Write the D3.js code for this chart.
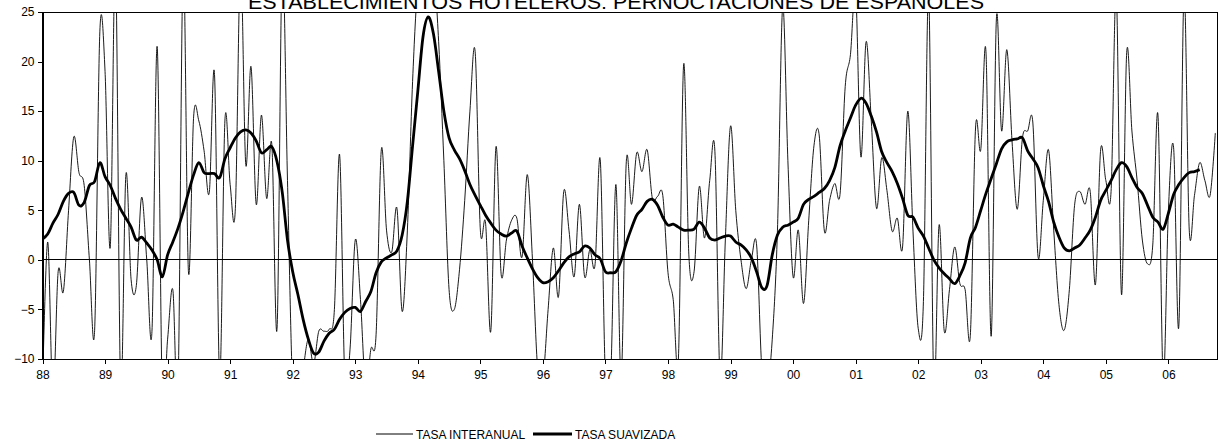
<!DOCTYPE html>
<meta charset="utf-8">
<style>
body { margin: 0; background: #fff; }
text { font-family: "Liberation Sans", Arial, sans-serif; fill: #000; }
.axis path, .axis line { stroke: #000; shape-rendering: crispEdges; }
.axis text { font-size: 12px; font-family: "Liberation Sans", Arial, sans-serif; }
</style>
<body>
<script src="https://cdnjs.cloudflare.com/ajax/libs/d3/7.8.5/d3.min.js"></script>
<script>

// year labels, one every 12 months starting Jan 1988
var yearLabels = ["88","89","90","91","92","93","94","95","96","97","98","99","00","01","02","03","04","05","06"];
var yTickValues = [-10, -5, 0, 5, 10, 15, 20, 25];

// monthly year-on-year rate (thin line), Jan 1988 onwards
var tasaInteranual = [
  -13, 1.8, -14, -1.2, -3.2, 5, 12.4, 8.8, 7.5, 0, -7.1, 23,
  19, 1.3, 30, -13, 8.6, -2, -2.6, 6.3, 0, -7.2, 21.5, -14,
  -8, -3, -13, 30, -1.2, 14.5, 14, 11, 6.8, 18.7, -12, 14.1,
  7.6, 5.2, 30, 9.6, 19.5, 5.6, 14.6, 6.2, 11.6, -6.9, 30, 8,
  -13, -14, -11, -8, -10.5, -7.2, -7.2, -7, -5, 10.6, -12, -9,
  2.0, -4, -13, -9, -7.5, 11.1, 3, 0.8, 5.2, -5.2, 3, 18,
  28, 32, 33, 30, 22, 10, -3, -5, -1, 6, 15, 21,
  3, 3.7, -7.2, 11.4, -1.5, 2, 4, 4.2, 0.3, 8.6, 0, -11,
  -12, -5, 1.2, -3.7, 6.9, 3, -1.7, 5.6, -1.7, 1, -0.5, 10.1,
  -12, -12, 7.6, -12, 9.9, 5.6, 10.8, 8.9, 11.1, 6.2, 6.4, 6.5,
  -1.3, -4, -9.9, 19.7, 0.5, -1.2, 7.4, 2.2, 8, 10.9, -12, 2,
  13.5, 5, 0, -2.9, 0, 1.5, -11, -13, -8, 3, 25.5, 10,
  -1.7, 3.0, -4.4, 4, 11.5, 12.6, 2.9, 6, 7.7, 6.6, 17.5, 20.7,
  27, 10.4, 22, 14, 5.2, 10.3, 7, 2.9, 4.2, 1.3, 15, 2.9,
  -6.9, -4.2, 27, -13, 3.5, -7.2, -3, 1.3, -2.4, -3, -7.6, 13.3,
  11.1, 21, -7.7, 24.3, 13, 21.2, 12, 5.1, 12.3, 13, 13.8, 0.3,
  6, 11.1, 3, -4.5, -7.1, -3, 5.5, 6.9, 5.6, 6.9, -2.5, 11.1,
  8, 6.9, 27, -3.5, 20.9, 13, 8, 2, -0.4, 1.5, 14.6, -12,
  5, 11.3, -6.7, 27, 3, 6.5, 9.8, 8, 6.5, 12.8
];

// smoothed rate (thick line)
var tasaSuavizada = [
  2.1, 2.6, 3.7, 4.6, 5.9, 6.7, 6.8, 5.5, 5.8, 7.5, 7.9, 9.8,
  8.4, 7.5, 6.2, 5.1, 4.2, 3.3, 2.0, 2.3, 1.7, 1.0, 0, -1.7,
  0.5, 1.8, 3.2, 4.9, 6.8, 8.6, 9.8, 8.8, 8.7, 8.7, 8.3, 10.2,
  11.3, 12.3, 12.9, 13.1, 12.8, 12.0, 10.8, 11.1, 11.4, 9.9, 6.8, 2.0,
  -1.2, -3.5, -6.0, -8.0, -9.4, -9.3, -8.2, -7.4, -7.0, -6.0, -5.3, -4.9,
  -4.8, -5.2, -4.2, -3.2, -1.3, -0.2, 0.2, 0.5, 0.9, 2.5, 5.9, 11.5,
  17, 22.5, 24.5, 22.8, 19, 15, 12.3, 11.1, 10.2, 9.0, 7.6, 6.5,
  5.5, 4.5, 3.7, 3.0, 2.6, 2.4, 2.7, 2.9, 1.4, 0.2, -0.9, -1.8,
  -2.3, -2.2, -1.8, -1.1, -0.3, 0.3, 0.6, 0.8, 1.4, 1.2, 0.5, 0.1,
  -1.2, -1.3, -1.2, -0.1, 1.7, 3.2, 4.5, 5.1, 5.9, 6.1, 5.5, 4.3,
  3.5, 3.6, 3.3, 3.0, 3.0, 3.1, 3.8, 3.2, 2.2, 2.0, 2.2, 2.4,
  2.4, 1.8, 1.5, 1.0, 0.2, -1.2, -2.8, -2.6, 0.5, 2.5, 3.3, 3.5,
  3.8, 4.2, 5.6, 6.1, 6.4, 6.8, 7.2, 8.0, 9.3, 11.5, 13.0, 14.3,
  15.6, 16.3, 15.8, 14.5, 12.9, 10.9, 9.8, 8.9, 7.7, 6.2, 4.5, 4.3,
  3.2, 2.4, 1.2, 0, -0.8, -1.4, -1.9, -2.4, -1.6, -0.3, 2.2, 3.3,
  5.0, 6.7, 8.2, 9.7, 11.2, 11.9, 12.1, 12.2, 12.3, 11.0, 10.2, 9.3,
  7.5, 5.9, 3.8, 2.3, 1.2, 0.9, 1.2, 1.5, 2.2, 3.0, 4.3, 6.0,
  7.0, 8.0, 9.1, 9.8, 9.4, 8.3, 7.3, 6.7, 5.5, 4.3, 3.8, 3.1,
  4.7, 6.6, 7.6, 8.3, 8.8, 8.9, 9.1
];

var W = 1219, H = 443;
var plotLeft = 42.5, plotRight = 1217, plotTop = 12, plotBottom = 359;

var svg = d3.select("body").append("svg")
    .attr("width", W)
    .attr("height", H);

var x = d3.scaleLinear()
    .domain([0, 225])
    .range([plotLeft, plotLeft + 225 * 5.2125]);

var y = d3.scaleLinear()
    .domain([-10, 25])
    .range([plotBottom, plotTop]);

svg.append("defs").append("clipPath")
    .attr("id", "plotclip")
  .append("rect")
    .attr("x", plotLeft)
    .attr("y", plotTop)
    .attr("width", plotRight - plotLeft)
    .attr("height", plotBottom - plotTop);

// frame
svg.append("rect")
    .attr("x", plotLeft)
    .attr("y", plotTop)
    .attr("width", plotRight - plotLeft)
    .attr("height", plotBottom - plotTop)
    .attr("fill", "none")
    .attr("stroke", "#000")
    .attr("shape-rendering", "crispEdges");

// zero line
svg.append("line")
    .attr("x1", plotLeft).attr("x2", plotRight)
    .attr("y1", y(0)).attr("y2", y(0))
    .attr("stroke", "#000")
    .attr("shape-rendering", "crispEdges");

var yAxis = d3.axisLeft(y)
    .tickValues(yTickValues)
    .tickSize(5)
    .tickPadding(3)
    .tickSizeOuter(0);

svg.append("g")
    .attr("class", "axis")
    .attr("transform", "translate(" + plotLeft + ",0)")
    .call(yAxis);

var yearTicks = yearLabels.map(function(d, i) { return i * 12; });

var xAxis = d3.axisBottom(x)
    .tickValues(yearTicks)
    .tickFormat(function(d, i) { return yearLabels[i]; })
    .tickSize(5)
    .tickPadding(6)
    .tickSizeOuter(0);

var gx = svg.append("g")
    .attr("class", "axis")
    .attr("transform", "translate(0," + plotBottom + ")")
    .call(xAxis);
gx.select(".domain").attr("d", "M" + plotLeft + ",0.5H" + plotRight);

var plot = svg.append("g")
    .attr("clip-path", "url(#plotclip)");

var line = d3.line()
    .x(function(d, i) { return x(i); })
    .y(function(d) { return y(d); })
    .curve(d3.curveCardinal.tension(0));

plot.append("path")
    .datum(tasaInteranual)
    .attr("fill", "none")
    .attr("stroke", "#000")
    .attr("stroke-width", 0.9)
    .attr("d", line);

plot.append("path")
    .datum(tasaSuavizada)
    .attr("fill", "none")
    .attr("stroke", "#000")
    .attr("stroke-width", 2.8)
    .attr("stroke-linejoin", "round")
    .attr("d", line);

// title, partly cut by the top edge
svg.append("text")
    .attr("x", 616)
    .attr("y", 9)
    .attr("text-anchor", "middle")
    .attr("font-size", "21px")
    .attr("textLength", 736)
    .attr("lengthAdjust", "spacingAndGlyphs")
    .text("ESTABLECIMIENTOS HOTELEROS: PERNOCTACIONES DE ESPAÑOLES");

// legend
var legend = svg.append("g")
    .attr("transform", "translate(0,434)");

var legendItems = [
    {label: "TASA INTERANUAL", x0: 376, x1: 413, w: 1},
    {label: "TASA SUAVIZADA", x0: 533, x1: 572, w: 3}
];

legendItems.forEach(function(d) {
    legend.append("line")
        .attr("x1", d.x0).attr("x2", d.x1)
        .attr("y1", 0).attr("y2", 0)
        .attr("stroke", "#000")
        .attr("stroke-width", d.w);
    legend.append("text")
        .attr("x", d.x1 + 3)
        .attr("y", 4.5)
        .attr("font-size", "12px")
        .text(d.label);
});

</script>
